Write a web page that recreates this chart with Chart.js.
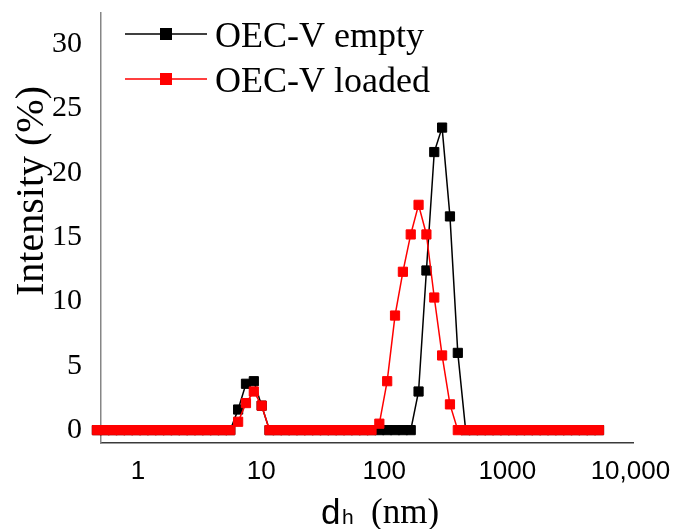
<!DOCTYPE html>
<html>
<head>
<meta charset="utf-8">
<script src="https://cdn.jsdelivr.net/npm/chart.js@4"></script>
<style>
  body { margin: 0; background: #fff; }
  canvas { display: block; }
</style>
</head>
<body>
<canvas id="dlsChart" width="675" height="529"></canvas>
<script>
// hydrodynamic diameter bins (nm)
const sizes = [0.4632, 0.5365, 0.6213, 0.7195, 0.8332, 0.9649, 1.117, 1.294, 1.499, 1.736,
  2.010, 2.328, 2.696, 3.122, 3.615, 4.187, 4.849, 5.615, 6.503, 7.531,
  8.721, 10.10, 11.70, 13.54, 15.69, 18.17, 21.04, 24.36, 28.21, 32.67,
  37.84, 43.82, 50.75, 58.77, 68.06, 78.82, 91.28, 105.7, 122.4, 141.8,
  164.2, 190.1, 220.2, 255.0, 295.3, 342.0, 396.1, 458.7, 531.2, 615.1,
  712.4, 825.0, 955.4, 1106, 1281, 1484, 1718, 1990, 2305, 2669,
  3091, 3580, 4145, 4801, 5560];

// intensity (%)
const emptyIntensity = [0, 0, 0, 0, 0, 0, 0, 0, 0, 0,
  0, 0, 0, 0, 0, 0, 0, 0, 1.6, 3.6,
  3.8, 1.9, 0, 0, 0, 0, 0, 0, 0, 0,
  0, 0, 0, 0, 0, 0, 0, 0, 0, 0,
  0, 3.0, 12.4, 21.6, 23.5, 16.6, 6.0, 0, 0, 0,
  0, 0, 0, 0, 0, 0, 0, 0, 0, 0,
  0, 0, 0, 0, 0];
const loadedIntensity = [0, 0, 0, 0, 0, 0, 0, 0, 0, 0,
  0, 0, 0, 0, 0, 0, 0, 0, 0.65, 2.1,
  3.0, 1.9, 0, 0, 0, 0, 0, 0, 0, 0,
  0, 0, 0, 0, 0, 0, 0.5, 3.8, 8.9, 12.3,
  15.2, 17.5, 15.2, 10.3, 5.8, 2.0, 0, 0, 0, 0,
  0, 0, 0, 0, 0, 0, 0, 0, 0, 0,
  0, 0, 0, 0, 0];

const seriesNames = ["OEC-V empty", "OEC-V loaded"];
const seriesColors = ["#000000", "#ff0000"];

const xTicks = [1, 10, 100, 1000, 10000];
const xTickLabels = ["1", "10", "100", "1000", "10,000"];
const yTicks = [0, 5, 10, 15, 20, 25, 30];

function toPoints(vals) {
  return sizes.map((s, i) => ({ x: s, y: vals[i] }));
}

// legend + axis titles drawn by hand (Excel-style layout)
const decorations = {
  id: "decorations",
  afterDraw(chart) {
    const ctx = chart.ctx;
    ctx.save();

    // legend
    const rows = [34, 79];
    seriesNames.forEach((name, i) => {
      const y = rows[i];
      ctx.strokeStyle = seriesColors[i];
      ctx.lineWidth = 1.5;
      ctx.beginPath();
      ctx.moveTo(125, y);
      ctx.lineTo(207, y);
      ctx.stroke();
      ctx.fillStyle = seriesColors[i];
      ctx.fillRect(160, y - 6, 12, 12);
      ctx.fillStyle = "#000";
      ctx.font = "36px 'Liberation Serif'";
      ctx.textAlign = "left";
      ctx.textBaseline = "alphabetic";
      ctx.fillText(name, 215, y + 13);
    });

    // y title
    ctx.save();
    ctx.translate(32, 191);
    ctx.rotate(-Math.PI / 2);
    ctx.font = "40px 'Liberation Serif'";
    ctx.textAlign = "center";
    ctx.textBaseline = "middle";
    ctx.fillStyle = "#000";
    ctx.fillText("Intensity (%)", 0, 0);
    ctx.restore();

    // x title: d with subscript h, then (nm)
    ctx.fillStyle = "#000";
    ctx.textAlign = "left";
    ctx.textBaseline = "alphabetic";
    ctx.font = "35px 'Liberation Sans'";
    ctx.fillText("d", 321, 524);
    ctx.font = "21px 'Liberation Sans'";
    ctx.fillText("h", 342, 524);
    ctx.font = "35px 'Liberation Serif'";
    ctx.fillText("(nm)", 371, 523);

    ctx.restore();
  }
};

const ctx = document.getElementById("dlsChart").getContext("2d");
new Chart(ctx, {
  type: "line",
  data: {
    datasets: [
      {
        label: seriesNames[0],
        data: toPoints(emptyIntensity),
        borderColor: seriesColors[0],
        backgroundColor: seriesColors[0],
        borderWidth: 1.5,
        pointStyle: "rect",
        pointRadius: 6.5,
        pointBorderWidth: 1,
        tension: 0,
        clip: false,
        order: 2
      },
      {
        label: seriesNames[1],
        data: toPoints(loadedIntensity),
        borderColor: seriesColors[1],
        backgroundColor: seriesColors[1],
        borderWidth: 1.5,
        pointStyle: "rect",
        pointRadius: 6.5,
        pointBorderWidth: 1,
        tension: 0,
        clip: false,
        order: 1
      }
    ]
  },
  options: {
    responsive: false,
    animation: false,
    layout: { padding: { left: 0, right: 42, top: 13, bottom: 0 } },
    plugins: {
      legend: { display: false },
      tooltip: { enabled: false }
    },
    scales: {
      x: {
        type: "logarithmic",
        min: 0.5,
        max: 10500,
        grid: { display: false, drawTicks: false },
        border: { display: true, color: "#3a3a3a", width: 1.5 },
        afterBuildTicks: (scale) => { scale.ticks = xTicks.map(v => ({ value: v })); },
        afterFit: (scale) => {
          scale.height = 86;
          scale.paddingLeft = 0;
          scale.paddingRight = 0;
        },
        ticks: {
          autoSkip: false,
          maxRotation: 0,
          padding: 13,
          color: "#000",
          font: { family: "'Liberation Sans'", size: 26 },
          callback: (v) => xTickLabels[xTicks.indexOf(v)]
        }
      },
      y: {
        min: -1,
        max: 32.4,
        grid: { display: false, drawTicks: false },
        border: { display: true, color: "#868686", width: 1.5 },
        afterBuildTicks: (scale) => { scale.ticks = yTicks.map(v => ({ value: v })); },
        afterFit: (scale) => {
          scale.width = 101;
          scale.paddingTop = 0;
          scale.paddingBottom = 0;
        },
        ticks: {
          padding: 19,
          color: "#000",
          font: { family: "'Liberation Serif'", size: 30 }
        }
      }
    }
  },
  plugins: [decorations]
});
</script>
</body>
</html>
